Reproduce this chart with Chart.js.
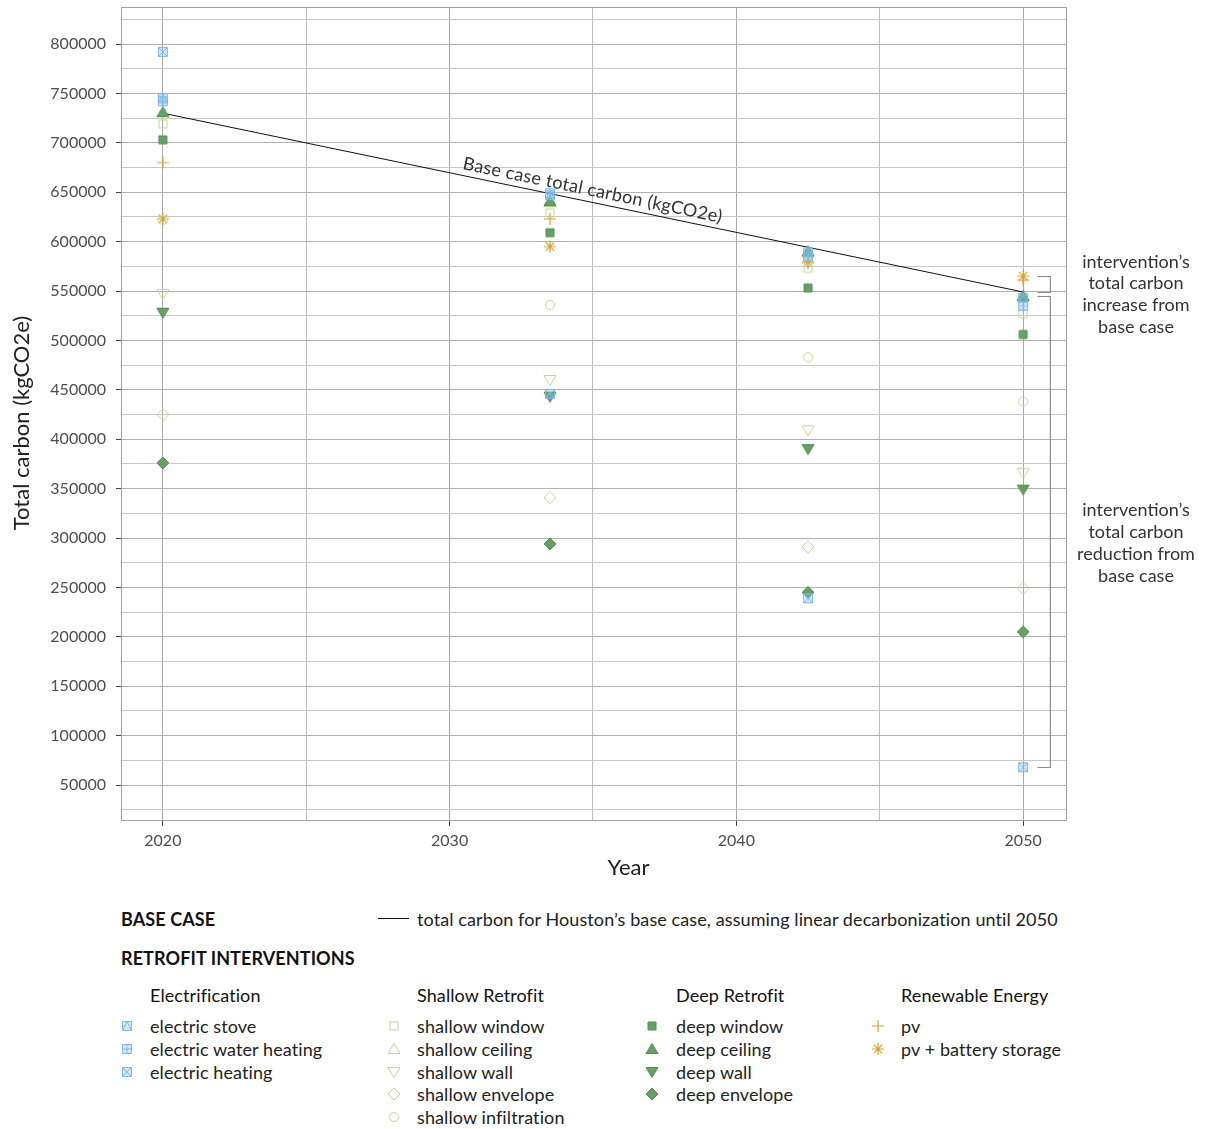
<!DOCTYPE html>
<html><head><meta charset="utf-8">
<script src="https://cdn.jsdelivr.net/npm/chart.js@4.4.1/dist/chart.umd.min.js"></script>
<style>
body{margin:0;background:#fff;font-family:Lato, "Noto Sans", sans-serif;}
#wrap{position:relative;width:1205px;height:1129px;overflow:hidden;}
#c{position:absolute;left:0;top:0;}
.lg{position:absolute;font-size:18px;color:#222;white-space:nowrap;line-height:1;transform:translateY(-50%);letter-spacing:0.1px;}
.hd{font-weight:bold;color:#111;}
.gh{color:#111;}
.mk{position:absolute;}
</style></head><body>
<div id="wrap"><canvas id="c" width="1205" height="890"></canvas><div id="legend"></div></div>
<script>
// ---- data ----
const years = [2020, 2033.5, 2042.5, 2050];
const electricStove        = [745000, 647000, 589000, 543000];
const electricWaterHeating = [742000, 649000, 585000, 535000];
const electricHeating      = [792000, 446000, 239000, 68000];
const shallowWindow        = [719000, 629000, 573000, 527000];
const shallowCeiling       = [729000, 640000, 590000, 544000];
const shallowWall          = [547000, 460000, 409000, 366000];
const shallowEnvelope      = [425000, 341000, 291000, 249000];
const shallowInfiltration  = [622000, 536000, 483000, 438000];
const deepWindow           = [703000, 609000, 553000, 506000];
const deepCeiling          = [731000, 641000, 590000, 545000];
const deepWall             = [528000, 443000, 390000, 349000];
const deepEnvelope         = [376000, 294000, 245000, 205000];
const pv                   = [680000, 623000, 579000, 561000];
const pvBattery            = [623000, 595000, 579000, 565000];
const baseYears = [2020, 2050];
const baseCase  = [730000, 549000];
const xGridValues = [2020, 2025, 2030, 2035, 2040, 2045, 2050];
const xTickLabels = ['2020', '2030', '2040', '2050'];
const yGridValues = [25000,50000,75000,100000,125000,150000,175000,200000,225000,250000,275000,300000,325000,350000,375000,400000,425000,450000,475000,500000,525000,550000,575000,600000,625000,650000,675000,700000,725000,750000,775000,800000,825000];
const increaseBracket = [565000, 549000];
const reductionBracket = [545000, 68000];

// ---- styles ----
const COL = {
  elec: {stroke:'#7db9ea', fill:'rgba(125,185,234,0.35)'},
  shal: {stroke:'#c3d897', fill:null},
  deep: {stroke:'#558f55', fill:'#67a064'},
  ren:  {stroke:'#d9a02a', fill:null}
};
function drawMarker(ctx, kind, x, y, col){
  ctx.save();
  ctx.lineWidth = 1;
  ctx.strokeStyle = col.stroke;
  ctx.beginPath();
  const r = 4.5;
  switch(kind){
    case 'sqTri': case 'sqPlus': case 'sqX':
      if (col.fill){ ctx.fillStyle = col.fill; ctx.fillRect(x-r,y-r,2*r,2*r); }
      ctx.rect(x-r,y-r,2*r,2*r);
      if (kind==='sqTri'){ ctx.moveTo(x-r,y+r); ctx.lineTo(x,y-r); ctx.lineTo(x+r,y+r); }
      if (kind==='sqPlus'){ ctx.moveTo(x,y-r); ctx.lineTo(x,y+r); ctx.moveTo(x-r,y); ctx.lineTo(x+r,y); }
      if (kind==='sqX'){ ctx.moveTo(x-r,y-r); ctx.lineTo(x+r,y+r); ctx.moveTo(x+r,y-r); ctx.lineTo(x-r,y+r); }
      ctx.stroke(); break;
    case 'square': ctx.rect(x-4,y-4,8,8); break;
    case 'tri': ctx.moveTo(x,y-5.5); ctx.lineTo(x+6,y+4.5); ctx.lineTo(x-6,y+4.5); ctx.closePath(); break;
    case 'triDown': ctx.moveTo(x,y+5.5); ctx.lineTo(x+6,y-4.5); ctx.lineTo(x-6,y-4.5); ctx.closePath(); break;
    case 'diamond': ctx.moveTo(x,y-6); ctx.lineTo(x+6,y); ctx.lineTo(x,y+6); ctx.lineTo(x-6,y); ctx.closePath(); break;
    case 'circle': ctx.arc(x,y,4.5,0,Math.PI*2); break;
    case 'plus': ctx.lineWidth=1.2; ctx.moveTo(x-6,y); ctx.lineTo(x+6,y); ctx.moveTo(x,y-6); ctx.lineTo(x,y+6); break;
    case 'ast': ctx.lineWidth=1.2; ctx.moveTo(x-6,y); ctx.lineTo(x+6,y); ctx.moveTo(x,y-6); ctx.lineTo(x,y+6);
      ctx.moveTo(x-4.3,y-4.3); ctx.lineTo(x+4.3,y+4.3); ctx.moveTo(x+4.3,y-4.3); ctx.lineTo(x-4.3,y+4.3); break;
  }
  if (!kind.startsWith('sq') || kind==='square'){
    if (col.fill && kind!=='plus' && kind!=='ast'){ ctx.fillStyle = col.fill; ctx.fill(); }
    ctx.stroke();
  }
  ctx.restore();
}
function markerImage(kind, col){
  const cv = document.createElement('canvas'); cv.width = 16; cv.height = 16;
  drawMarker(cv.getContext('2d'), kind, 8, 8, col);
  return cv;
}

const series = [
  {label:'electric stove', values:electricStove, kind:'sqTri', col:COL.elec},
  {label:'electric water heating', values:electricWaterHeating, kind:'sqPlus', col:COL.elec},
  {label:'electric heating', values:electricHeating, kind:'sqX', col:COL.elec},
  {label:'deep window', values:deepWindow, kind:'square', col:COL.deep},
  {label:'deep ceiling', values:deepCeiling, kind:'tri', col:COL.deep},
  {label:'deep wall', values:deepWall, kind:'triDown', col:COL.deep},
  {label:'deep envelope', values:deepEnvelope, kind:'diamond', col:COL.deep},
  {label:'shallow window', values:shallowWindow, kind:'square', col:COL.shal},
  {label:'shallow ceiling', values:shallowCeiling, kind:'tri', col:COL.shal},
  {label:'shallow wall', values:shallowWall, kind:'triDown', col:COL.shal},
  {label:'shallow envelope', values:shallowEnvelope, kind:'diamond', col:COL.shal},
  {label:'shallow infiltration', values:shallowInfiltration, kind:'circle', col:COL.shal},
  {label:'pv', values:pv, kind:'plus', col:COL.ren},
  {label:'pv + battery storage', values:pvBattery, kind:'ast', col:COL.ren}
];

const datasets = series.map(s => ({
  type:'scatter', label:s.label,
  data: years.map((yr,i)=>({x:yr, y:s.values[i]})),
  pointStyle: markerImage(s.kind, s.col), pointRadius:6, showLine:false
}));
datasets.push({
  type:'line', label:'base case',
  data: baseYears.map((yr,i)=>({x:yr, y:baseCase[i]})),
  borderColor:'#111', borderWidth:1, pointRadius:0, fill:false
});

const FONT = 'Lato, "Noto Sans", sans-serif';
const annot = {
  id:'annot',
  beforeDraw(chart){
    const {ctx} = chart;
    ctx.save(); ctx.fillStyle='#fff'; ctx.fillRect(0,0,chart.width,chart.height); ctx.restore();
  },
  afterDatasetsDraw(chart){
    const {ctx, chartArea:a, scales:{x, y}} = chart;
    ctx.save();
    ctx.strokeStyle = '#a0a0a0'; ctx.lineWidth = 1;
    ctx.strokeRect(a.left+0.5, a.top+0.5, a.right-a.left-1, a.bottom-a.top-1);
    // base label
    const x0 = x.getPixelForValue(baseYears[0]), y0 = y.getPixelForValue(baseCase[0]);
    const x1 = x.getPixelForValue(baseYears[1]), y1 = y.getPixelForValue(baseCase[1]);
    const ang = Math.atan2(y1-y0, x1-x0);
    const t = (2034.9 - baseYears[0])/(baseYears[1]-baseYears[0]);
    const px = x0 + (x1-x0)*t, py = y0 + (y1-y0)*t;
    ctx.save();
    ctx.translate(px + Math.sin(ang)*12, py - Math.cos(ang)*12);
    ctx.rotate(ang);
    ctx.fillStyle='#333'; ctx.font = '18px '+FONT; ctx.textAlign='center'; ctx.textBaseline='middle';
    try{ ctx.letterSpacing = '0.3px'; }catch(e){}
    ctx.fillText('Base case total carbon (kgCO2e)', 0, 0);
    ctx.restore();
    // brackets
    const bx0 = x.getPixelForValue(2050.5), bx1 = x.getPixelForValue(2050.95);
    ctx.strokeStyle = '#8c8c8c'; ctx.lineWidth = 1.2;
    function bracket(v0, v1){
      const ya = Math.round(y.getPixelForValue(v0))+0.5, yb = Math.round(y.getPixelForValue(v1))+0.5;
      ctx.beginPath(); ctx.moveTo(bx0, ya); ctx.lineTo(bx1, ya); ctx.lineTo(bx1, yb); ctx.lineTo(bx0, yb); ctx.stroke();
      return (ya+yb)/2;
    }
    const c1 = bracket(increaseBracket[0], increaseBracket[1]);
    const c2 = bracket(reductionBracket[0], reductionBracket[1]);
    ctx.fillStyle='#333'; ctx.font = '18px '+FONT; ctx.textAlign='center'; ctx.textBaseline='middle';
    const tx = a.right + 69;
    const l1 = ['intervention\u2019s','total carbon','increase from','base case'];
    const l2 = ['intervention\u2019s','total carbon','reduction from','base case'];
    l1.forEach((s,i)=>ctx.fillText(s, tx, c1 + 10 + (i-1.5)*21.8));
    l2.forEach((s,i)=>ctx.fillText(s, tx, c2 + 11 + (i-1.5)*21.8));
    // axis titles
    ctx.fillStyle='#222'; ctx.font = '22px '+FONT;
    ctx.fillText('Year', (a.left + tx)/2, 868);
    ctx.save();
    ctx.translate(22, (a.top + a.bottom)/2 + 9);
    ctx.rotate(-Math.PI/2);
    ctx.fillText('Total carbon (kgCO2e)', 0, 0);
    ctx.restore();
    ctx.restore();
  }
};

new Chart(document.getElementById('c'), {
  data:{datasets},
  options:{
    responsive:false, animation:false, events:[],
    layout:{padding:{left:0, right:138, top:7, bottom:0}},
    plugins:{legend:{display:false}, tooltip:{enabled:false}},
    scales:{
      x:{type:'linear', min:2018.54, max:2051.53,
        afterBuildTicks(s){ s.ticks = xGridValues.map(v=>({value:v})); },
        afterFit(s){ s.height = 69; s.paddingLeft = 0; s.paddingRight = 0; },
        ticks:{autoSkip:false, maxRotation:0, padding:5, color:'#4d4d4d', font:{family:FONT, size:16},
          callback:(v)=> xTickLabels.includes(String(v)) ? String(v) : ''},
        grid:{color:(c)=> (c.tick && c.tick.value%10===0) ? '#a8a8a8' : '#bdbdbd', tickLength:5,
          tickColor:(c)=> (c.tick && c.tick.value%10===0) ? '#444' : 'rgba(0,0,0,0)'},
        border:{display:false},
        title:{display:false}
      },
      y:{type:'linear', min:13563, max:837450,
        afterBuildTicks(s){ s.ticks = yGridValues.map(v=>({value:v})); },
        afterFit(s){ s.width = 121; s.paddingTop = 0; s.paddingBottom = 0; },
        ticks:{autoSkip:false, padding:10, color:'#4d4d4d', font:{family:FONT, size:16},
          callback:(v)=> (v%50000===0 && v<=800000) ? String(v) : ''},
        grid:{color:(c)=> (c.tick && c.tick.value%50000===0) ? '#b0b0b0' : '#c8c8c8', tickLength:5,
          tickColor:(c)=> (c.tick && c.tick.value%50000===0 && c.tick.value<=800000) ? '#444' : 'rgba(0,0,0,0)'},
        border:{display:false},
        title:{display:false}
      }
    }
  },
  plugins:[annot]
});

// ---- legend ----
const L = document.getElementById('legend');
function txt(s, x, y, cls){ const d=document.createElement('div'); d.className='lg '+(cls||''); d.textContent=s; d.style.left=x+'px'; d.style.top=y+'px'; L.appendChild(d); }
function mk(kind, col, x, y){ const c=markerImage(kind,col); c.className='mk'; c.style.left=(x-8)+'px'; c.style.top=(y-8)+'px'; L.appendChild(c); }
txt('BASE CASE', 121, 919, 'hd');
const ln = document.createElement('div'); ln.style.cssText='position:absolute;left:378px;top:918px;width:31px;height:1px;background:#111'; L.appendChild(ln);
txt('total carbon for Houston\u2019s base case, assuming linear decarbonization until 2050', 417, 919);
txt('RETROFIT INTERVENTIONS', 121, 958, 'hd');
const groupNames = ['Electrification','Shallow Retrofit','Deep Retrofit','Renewable Energy'];
const groupX = [150, 417, 676, 901];
const markerX = [127, 394, 652, 878];
const rowY = [1026, 1049, 1072, 1094, 1117];
groupNames.forEach((g,i)=>txt(g, groupX[i], 995, 'gh'));
const order = [['electric stove','electric water heating','electric heating'],
  ['shallow window','shallow ceiling','shallow wall','shallow envelope','shallow infiltration'],
  ['deep window','deep ceiling','deep wall','deep envelope'],
  ['pv','pv + battery storage']];
order.forEach((names,gi)=>names.forEach((n,ri)=>{
  const s = series.find(q=>q.label===n);
  mk(s.kind, s.col, markerX[gi], rowY[ri]);
  txt(n, groupX[gi], rowY[ri]);
}));
</script>
</body></html>
